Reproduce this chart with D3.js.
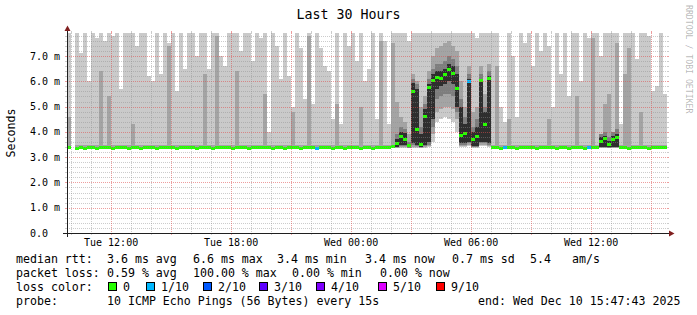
<!DOCTYPE html>
<html>
<head>
<meta charset="utf-8">
<script src="https://cdn.jsdelivr.net/npm/d3@7/dist/d3.min.js"></script>
<style>
  html, body { margin: 0; padding: 0; background: #fff; }
  svg { display: block; font-family: "DejaVu Sans Mono", monospace; }
</style>
</head>
<body>
<div id="chart"></div>
<script>
// time window: 30 hours ending at the probe end time, one column = 12 minutes
const endTime = new Date(2025, 11, 10, 15, 47, 43);
const spanHours = 30;
const stepMinutes = 12;

// median rtt per column (ms), null = no data
const median = [
  3.37, null, 3.36, 3.37, 3.36, 3.38, 3.37, 3.36, 3.37, 3.38,
  3.37, 3.36, 3.37, 3.37, 3.38, 3.36, 3.37, 3.37, 3.36, 3.38,
  3.37, 3.37, 3.36, 3.38, 3.37, 3.40, 3.37, 3.36, 3.37, 3.37,
  3.38, 3.37, 3.36, 3.37, 3.39, 3.37, 3.36, 3.37, 3.38, 3.37,
  3.37, 3.36, 3.38, 3.37, 3.37, 3.36, 3.39, 3.37, 3.37, 3.38,
  3.37, 3.36, 3.38, 3.37, 3.36, 3.37, 3.38, 3.37, 3.36, 3.37,
  3.38, 3.37, 3.36, 3.37, 3.37, 3.38, 3.36, 3.37, 3.37, 3.36,
  3.37, 3.38, 3.37, 3.36, 3.37, 3.37, 3.36, 3.38, 3.37, 3.37,
  3.40, 3.42, 3.52, 3.82, 3.70, 3.45, 5.60, 4.10, 3.50, 4.60,
  5.75, 6.05, 6.15, 6.10, 6.25, 6.45, 6.30, 5.70, 3.85, 3.95,
  6.00, 3.70, 3.80, 6.05, 4.30, 6.10, 3.37, 3.37, 3.36, 3.37,
  3.37, 3.38, 3.36, 3.37, 3.37, 3.38, 3.37, 3.36, 3.37, 3.37,
  3.38, 3.37, 3.36, 3.37, 3.37, 3.36, 3.38, 3.37, 3.37, 3.36,
  3.37, 3.37, 3.38, 3.62, 3.72, 3.50, 3.68, 3.76, 3.40, 3.37,
  3.36, 3.37, 3.38, 3.37, 3.37, 3.36, 3.37, 3.38, 3.37, 3.37
];

// highest ping per column (ms), values above the top are clipped
const pingMax = [
  8, null, 8, 7.1, 8, 6.0, 8, 7.7, 8, 7.6,
  8, 7.8, 8, 5.7, 8, 8, 8, 7.4, 8, 8,
  6.2, 6.0, 8, 6.3, 8, 7.5, 8, 5.6, 8, 6.5,
  8, 8, 7.0, 8, 8, 6.5, 8, 8, 7.0, 6.6,
  8, 8, 8, 7.2, 8, 8, 6.8, 8, 7.7, 8,
  4.0, 8, 7.4, 6.1, 8, 6.2, 5.0, 8, 7.3, 5.3,
  8, 5.1, 8, 7.3, 6.6, 6.4, 4.5, 8, 4.3, 8,
  7.4, 8, 6.8, 8, 6.0, 6.5, 8, 4.5, 8, 7.6,
  4.3, 8, 8, 8, 8, 7.6, 8, 8, 8, 8,
  8, 8, 8, 8, 8, 8, 8, 8, 8, 8,
  8, 8, 7.7, 8, 8, 8, 8, 8, 5.0, 4.4,
  8, 7.0, 4.6, 8, 7.5, 8, 6.6, 8, 7.2, 8,
  7.4, 5.0, 8, 6.3, 8, 5.4, 8, 8, 6.0, 8,
  7.7, 8, 8, 7.0, 8, 8, 8, 8, 4.3, 8,
  8, 8, 6.9, 8, 8, 7.8, 5.6, 5.8, 8, 5.5
];

// second highest ping per column (ms)
const ping9 = [
  4.6, null, 3.5, 3.5, 3.5, 3.5, 3.5, 3.5, 6.4, 3.5,
  5.4, 3.5, 3.5, 3.5, 3.5, 3.5, 4.3, 3.5, 3.5, 3.5,
  3.5, 3.5, 3.5, 3.5, 3.5, 7.4, 3.5, 3.5, 3.5, 3.5,
  3.5, 3.5, 3.5, 3.5, 6.3, 3.5, 3.5, 7.8, 3.5, 3.5,
  3.5, 3.5, 6.4, 3.5, 3.5, 3.5, 3.5, 3.5, 3.5, 5.5,
  3.5, 3.5, 3.5, 3.5, 3.5, 3.5, 4.8, 3.5, 3.5, 3.5,
  7.8, 3.5, 3.5, 3.5, 3.5, 3.5, 3.5, 5.1, 3.5, 3.5,
  3.5, 3.5, 3.5, 5.0, 3.5, 3.5, 3.5, 3.5, 7.6, 3.5,
  3.5, 7.5, 5.2, 4.6, 4.4, 3.9, 6.3, 6.0, 5.0, 5.4,
  6.4, 7.0, 7.3, 7.4, 7.5, 7.6, 7.4, 7.2, 6.0, 5.0,
  6.6, 4.8, 5.0, 6.6, 5.5, 6.7, 3.5, 6.6, 3.5, 3.5,
  4.5, 3.5, 3.5, 3.5, 3.5, 3.5, 3.5, 3.5, 3.5, 3.5,
  4.5, 3.5, 3.5, 3.5, 3.5, 3.5, 3.5, 5.4, 3.5, 3.5,
  3.5, 7.7, 3.5, 3.5, 5.1, 5.5, 3.5, 7.5, 3.5, 6.3,
  7.3, 3.5, 3.5, 4.8, 3.5, 3.5, 3.5, 3.5, 3.5, 3.5
];

// columns where the lower pings spread (disturbed periods)
const evCol = [82, 83, 84, 85, 86, 87, 88, 89, 90, 91, 92, 93, 94, 95, 96, 97, 98, 99, 100, 101, 102, 103, 104, 105, 133, 134, 135, 136, 137];
const evMin = [3.36, 3.37, 3.37, 3.36, 3.38, 3.38, 3.36, 3.38, 3.40, 3.60, 4.40, 4.50, 4.60, 4.50, 4.40, 4.00, 3.40, 3.40, 3.45, 3.38, 3.38, 3.45, 3.45, 3.40, 3.36, 3.36, 3.36, 3.36, 3.36];
const evP2  = [3.38, 3.40, 3.40, 3.37, 3.42, 3.42, 3.38, 3.42, 3.45, 3.90, 4.80, 4.90, 5.00, 5.00, 4.90, 4.50, 3.45, 3.45, 3.50, 3.40, 3.40, 3.50, 3.50, 3.45, 3.38, 3.38, 3.37, 3.38, 3.38];
const evP3  = [3.40, 3.45, 3.45, 3.38, 3.48, 3.46, 3.40, 3.46, 3.50, 4.20, 5.30, 5.40, 5.50, 5.50, 5.40, 4.80, 3.50, 3.50, 3.55, 3.42, 3.42, 3.55, 3.55, 3.50, 3.40, 3.40, 3.38, 3.40, 3.40];
const evP8  = [3.90, 4.20, 4.10, 3.60, 6.10, 5.90, 4.20, 5.10, 6.10, 6.50, 6.70, 6.70, 6.80, 7.00, 6.90, 6.60, 5.30, 4.60, 6.30, 4.20, 4.50, 6.30, 5.00, 6.40, 3.90, 4.00, 3.80, 4.00, 4.10];
const evP4  = [3.42, 3.50, 3.50, 3.40, 3.55, 3.50, 3.42, 3.50, 3.60, 4.50, 5.70, 5.80, 5.90, 6.00, 5.90, 5.00, 3.55, 3.55, 3.60, 3.45, 3.45, 3.60, 3.60, 3.55, 3.42, 3.42, 3.40, 3.42, 3.42];
const evP7  = [3.70, 4.00, 3.95, 3.50, 5.95, 5.70, 3.90, 4.90, 5.90, 6.30, 6.40, 6.40, 6.50, 6.70, 6.60, 6.30, 5.00, 4.30, 6.10, 4.00, 4.20, 6.10, 4.80, 6.20, 3.80, 3.85, 3.65, 3.85, 3.90];

// columns with packet loss (x of 10)
const lossCol = [62, 100, 109, 130];
const lossCount = [1, 1, 1, 1];

const lossLabels = ['0', '1/10', '2/10', '3/10', '4/10', '5/10', '9/10'];
const lossColors = ['#26ff00', '#00b8ff', '#0059ff', '#5e00ff', '#7e00ff', '#dd00ff', '#ff0000'];

const yTicks = [0, 1, 2, 3, 4, 5, 6, 7];
const yTickLabels = ['0.0', '1.0 m', '2.0 m', '3.0 m', '4.0 m', '5.0 m', '6.0 m', '7.0 m'];

const rttStats = ['3.6 ms avg', '6.6 ms max', '3.4 ms min', '3.4 ms now', '0.7 ms sd', '5.4', 'am/s'];
const lossStats = ['0.59 % avg', '100.00 % max', '0.00 % min', '0.00 % now'];

// ---- layout ----
const W = 697, H = 315;
const X0 = 67, X1 = 667, Y0 = 233, Y1 = 33;
const smoke = ['#cacaca', '#a4a4a4', '#7e7e7e', '#2e2e2e'];
const gridCol = 'rgba(143,143,143,0.45)';
const mgridCol = 'rgba(222,79,79,0.55)';

const startTime = d3.timeHour.offset(endTime, -spanHours);
const x = d3.scaleTime().domain([startTime, endTime]).range([X0, X1]);
const y = d3.scaleLinear().domain([0, 7.91]).range([Y0, Y1]);

function lossColor(n) {
  if (n <= 0) return lossColors[0];
  if (n <= 4) return lossColors[n];
  if (n < 9) return lossColors[5];
  return lossColors[6];
}

const cols = median.map((m, i) => {
  const t0 = d3.timeMinute.offset(startTime, i * stepMinutes);
  const t1 = d3.timeMinute.offset(startTime, (i + 1) * stepMinutes);
  const e = evCol.indexOf(i);
  const l = lossCol.indexOf(i);
  return {
    t0, t1, med: m, max: pingMax[i], p9: ping9[i],
    min: e >= 0 ? evMin[e] : m,
    p2: e >= 0 ? evP2[e] : m,
    p3: e >= 0 ? evP3[e] : null, p8: e >= 0 ? evP8[e] : null,
    p4: e >= 0 ? evP4[e] : null, p7: e >= 0 ? evP7[e] : null,
    loss: l >= 0 ? lossCount[l] : 0
  };
}).filter(d => d.med != null);

const svg = d3.select('#chart').append('svg')
  .attr('width', W).attr('height', H)
  .attr('viewBox', `0 0 ${W} ${H}`);

svg.append('rect').attr('width', W).attr('height', H).attr('fill', '#fff');

svg.append('clipPath').attr('id', 'plot')
  .append('rect').attr('x', X0).attr('y', Y1).attr('width', X1 - X0).attr('height', Y0 - Y1);

const plot = svg.append('g').attr('clip-path', 'url(#plot)').attr('shape-rendering', 'crispEdges');

function band(cls, lo, hi, color) {
  plot.selectAll('rect.' + cls)
    .data(cols.filter(d => d[lo] != null && d[hi] != null && d[hi] > d[lo]))
    .join('rect')
    .attr('class', cls)
    .attr('x', d => x(d.t0))
    .attr('width', d => x(d.t1) - x(d.t0))
    .attr('y', d => y(d[hi]))
    .attr('height', d => y(d[lo]) - y(d[hi]))
    .attr('fill', color);
}
band('b1', 'min', 'max', smoke[0]);
band('b2', 'p2', 'p9', smoke[1]);
band('b3', 'p3', 'p8', smoke[2]);
band('b4', 'p4', 'p7', smoke[3]);

plot.selectAll('rect.med')
  .data(cols)
  .join('rect')
  .attr('class', 'med')
  .attr('x', d => x(d.t0))
  .attr('width', d => x(d.t1) - x(d.t0))
  .attr('y', d => y(d.med) - 1.5)
  .attr('height', 3)
  .attr('fill', d => lossColor(d.loss));

// ---- grid (drawn over the data, as rrdtool does) ----
const grid = svg.append('g').attr('shape-rendering', 'crispEdges');
const px = v => Math.round(v) + 0.5;

const majorY = y.ticks(8);
const minorY = y.ticks(40).filter(v => Math.abs(v - Math.round(v)) > 1e-6);

function hLine(v, color) {
  const yy = px(y(v));
  grid.append('line').attr('x1', X0).attr('x2', X1).attr('y1', yy).attr('y2', yy)
    .attr('stroke', color).attr('stroke-dasharray', '1,1');
  grid.append('line').attr('x1', X0 - 2).attr('x2', X0).attr('y1', yy).attr('y2', yy).attr('stroke', color);
  grid.append('line').attr('x1', X1).attr('x2', X1 + 2).attr('y1', yy).attr('y2', yy).attr('stroke', color);
}
minorY.forEach(v => hLine(v, gridCol));
majorY.forEach(v => hLine(v, mgridCol));

const hourTicks = x.ticks(d3.timeHour.every(1));
const majorX = x.ticks(d3.timeHour.every(3));
const labelX = x.ticks(d3.timeHour.every(6));

function vLine(t, color) {
  const xx = px(x(t));
  grid.append('line').attr('x1', xx).attr('x2', xx).attr('y1', Y1).attr('y2', Y0)
    .attr('stroke', color).attr('stroke-dasharray', '1,1');
  grid.append('line').attr('x1', xx).attr('x2', xx).attr('y1', Y1 - 2).attr('y2', Y1).attr('stroke', color);
  grid.append('line').attr('x1', xx).attr('x2', xx).attr('y1', Y0).attr('y2', Y0 + 2).attr('stroke', color);
}
hourTicks.filter(t => t.getHours() % 3 !== 0).forEach(t => vLine(t, gridCol));
majorX.forEach(t => vLine(t, mgridCol));

// ---- axes with arrows ----
const axisCol = '#1f1f1f', arrowCol = '#801f1f';
svg.append('line').attr('x1', X0 - 4).attr('x2', X1 + 4).attr('y1', Y0 + 0.5).attr('y2', Y0 + 0.5)
  .attr('stroke', axisCol).attr('shape-rendering', 'crispEdges');
svg.append('line').attr('x1', X0 + 0.5).attr('x2', X0 + 0.5).attr('y1', Y0 + 4).attr('y2', Y1 - 4)
  .attr('stroke', axisCol).attr('shape-rendering', 'crispEdges');
svg.append('path').attr('d', `M${X1 + 2},${Y0 - 2.5}L${X1 + 2},${Y0 + 3.5}L${X1 + 7.5},${Y0 + 0.5}Z`).attr('fill', arrowCol);
svg.append('path').attr('d', `M${X0 - 2.5},${Y1 - 2}L${X0 + 3.5},${Y1 - 2}L${X0 + 0.5},${Y1 - 7.5}Z`).attr('fill', arrowCol);

// ---- axis labels ----
svg.append('g').selectAll('text').data(yTicks).join('text')
  .attr('x', 30).attr('y', d => y(d)).attr('dy', '0.36em')
  .attr('font-size', 10).attr('fill', '#000')
  .text((d, i) => yTickLabels[i]);

const fmt = d3.timeFormat('%a %H:%M');
svg.append('g').selectAll('text').data(labelX).join('text')
  .attr('x', d => x(d)).attr('y', 245.5)
  .attr('text-anchor', 'middle').attr('font-size', 10).attr('fill', '#000')
  .text(d => fmt(d));

svg.append('text')
  .attr('transform', `translate(15,${(Y0 + Y1) / 2}) rotate(-90)`)
  .attr('text-anchor', 'middle').attr('font-size', 11.6).attr('fill', '#000')
  .text('Seconds');

svg.append('text')
  .attr('x', W / 2).attr('y', 18.5)
  .attr('text-anchor', 'middle').attr('font-size', 13.3).attr('fill', '#000')
  .text('Last 30 Hours');

svg.append('text')
  .attr('transform', 'translate(692,5) rotate(90)')
  .attr('dominant-baseline', 'hanging')
  .attr('font-size', 8.2).attr('fill', 'rgba(0,0,0,0.3)')
  .text('RRDTOOL / TOBI OETIKER');

// ---- legend ----
const lg = svg.append('g').attr('font-size', 11.6).attr('fill', '#000');
const rowY = [262.5, 276.5, 290.5, 304.5];

lg.append('text').attr('x', 16).attr('y', rowY[0]).text('median rtt:');
const rttX = [107, 193, 277, 365, 452, 530, 572];
rttStats.forEach((s, i) => lg.append('text').attr('x', rttX[i]).attr('y', rowY[0]).text(s));

lg.append('text').attr('x', 16).attr('y', rowY[1]).text('packet loss:');
const lossX = [107, 193, 292, 380];
lossStats.forEach((s, i) => lg.append('text').attr('x', lossX[i]).attr('y', rowY[1]).text(s));

lg.append('text').attr('x', 16).attr('y', rowY[2]).text('loss color:');
const boxX = [108, 146, 203, 259, 316, 378, 436];
lossLabels.forEach((s, i) => {
  lg.append('rect').attr('x', boxX[i] + 0.5).attr('y', rowY[2] - 8).attr('width', 8).attr('height', 8)
    .attr('fill', lossColors[i]).attr('stroke', '#000').attr('shape-rendering', 'crispEdges');
  lg.append('text').attr('x', boxX[i] + 15).attr('y', rowY[2]).text(s);
});

lg.append('text').attr('x', 16).attr('y', rowY[3]).text('probe:');
lg.append('text').attr('x', 107).attr('y', rowY[3]).text('10 ICMP Echo Pings (56 Bytes) every 15s');
lg.append('text').attr('x', 478).attr('y', rowY[3]).text('end: Wed Dec 10 15:47:43 2025');
</script>
</body>
</html>
